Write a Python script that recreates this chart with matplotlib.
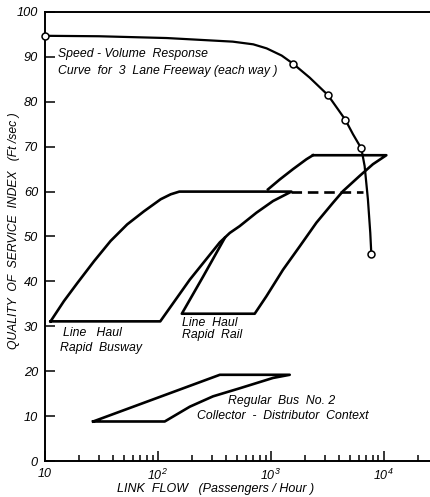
import numpy as np
import matplotlib
matplotlib.use('Agg')
from matplotlib import pyplot as plt
from matplotlib.ticker import FixedLocator, NullFormatter

plt.rcParams['font.family'] = ['Liberation Sans', 'DejaVu Sans']
plt.rcParams['font.style'] = 'italic'
plt.rcParams['mathtext.fontset'] = 'custom'
plt.rcParams['mathtext.rm'] = 'Liberation Sans:italic'
plt.rcParams['mathtext.it'] = 'Liberation Sans:italic'
plt.rcParams['mathtext.default'] = 'it'

# speed - volume response curve (freeway)
speed_flow = [10, 30, 120, 460, 700, 920, 1250, 1575, 2210, 3210, 3950, 4580, 5350, 6350, 6790, 7260, 7620, 7780]
speed_q = [94.7, 94.6, 94.2, 93.4, 92.8, 91.9, 90.3, 88.5, 85.4, 81.5, 78.3, 76.0, 72.8, 69.6, 65.7, 58.3, 50.8, 46.2]
speed_marks = [0, 7, 9, 11, 13, 17]

# line haul rapid busway outline
busway_flow = [11.2, 14.7, 19.3, 27.2, 38.1, 53.5, 75.2, 106, 130, 155,
               1524, 1048, 747, 530, 434, 354, 192, 105, 11.2]
busway_q = [31.1, 35.6, 39.6, 44.5, 49.0, 52.7, 55.6, 58.3, 59.4, 60.0,
            60.0, 57.9, 55.3, 52.3, 50.8, 48.7, 40.4, 31.1, 31.1]

# extension of busway top (dashed)
dash_flow = [1524, 6560]
dash_q = [60.0, 60.0]

# line haul rapid rail: lower part (left edge joins busway edge)
rail_low_flow = [392, 252, 163, 721, 916, 1285, 1806, 2543, 3557, 4365, 6138, 8040, 10570, 2366]
rail_low_q = [49.7, 41.1, 32.8, 32.8, 36.7, 42.6, 47.8, 53.1, 57.5, 60.1, 63.5, 66.1, 68.1, 68.1]
rail_up_flow = [2366, 2070, 1575, 1202, 946]
rail_up_q = [68.1, 67.2, 65.0, 62.7, 60.5]

# regular bus no. 2
bus_flow = [26.7, 354, 1473, 1048, 532, 308, 192, 115, 26.7]
bus_q = [8.8, 19.2, 19.2, 18.5, 16.2, 14.4, 12.1, 8.8, 8.8]

y_ticks = list(range(0, 101, 10))
x_major = [10, 100, 1000, 10000]
x_major_labels = ['10', '10$^2$', '10$^3$', '10$^4$']


def main():
    fig = plt.figure(figsize=(4.31, 4.97), dpi=100)
    ax = fig.add_axes([45 / 431, 1 - 461 / 497, 1 - 45 / 431, 449 / 497])
    ax.set_xscale('log')
    ax.set_xlim(10, 26300)
    ax.set_ylim(0, 100)

    lw = 1.9
    ax.plot(busway_flow, busway_q, color='black', lw=lw)
    ax.plot(dash_flow, dash_q, color='black', lw=lw, linestyle=(0, (4, 2.2)))
    ax.plot(rail_low_flow, rail_low_q, color='black', lw=lw)
    ax.plot(rail_up_flow, rail_up_q, color='black', lw=lw)
    ax.plot(bus_flow, bus_q, color='black', lw=lw)
    ax.plot(speed_flow, speed_q, color='black', lw=1.6, marker='o', markevery=speed_marks,
            markersize=5, markerfacecolor='white', markeredgecolor='black', markeredgewidth=1.1,
            clip_on=False, zorder=5)

    # axes look
    ax.spines['right'].set_visible(False)
    for side in ['left', 'bottom', 'top']:
        ax.spines[side].set_linewidth(1.4)

    ax.xaxis.set_major_locator(FixedLocator(x_major))
    ax.set_xticklabels(x_major_labels, fontsize=9)
    ax.xaxis.set_minor_locator(FixedLocator(
        [m * 10 ** d for d in range(1, 5) for m in range(2, 10)]))
    ax.xaxis.set_minor_formatter(NullFormatter())
    ax.tick_params(axis='x', which='major', direction='in', length=7, width=1.1, pad=5)
    ax.tick_params(axis='x', which='minor', direction='in', length=4, width=1.1)
    ax.tick_params(axis='x', top=False, which='both')

    ax.set_yticks(y_ticks)
    ax.set_yticklabels([str(v) for v in y_ticks], fontsize=9.2)
    ax.tick_params(axis='y', direction='in', length=7, width=1.1, pad=5, right=False)

    ax.set_xlabel('LINK  FLOW   (Passengers / Hour )', fontsize=9)
    ax.xaxis.set_label_coords(0.443, -0.049)
    ax.set_ylabel('QUALITY  OF  SERVICE  INDEX   (Ft /sec )', fontsize=8.7)
    ax.yaxis.set_label_coords(-0.066, 0.514)

    # annotations
    fs = 8.8
    ax.text(13.0, 90.6, 'Speed - Volume  Response', fontsize=fs, va='center')
    ax.text(13.0, 86.8, 'Curve  for  3  Lane Freeway (each way )', fontsize=fs, va='center')
    ax.text(14.4, 28.6, 'Line   Haul', fontsize=fs, va='center')
    ax.text(13.6, 25.2, 'Rapid  Busway', fontsize=fs, va='center')
    ax.text(163, 30.8, 'Line  Haul', fontsize=fs, va='center')
    ax.text(163, 28.1, 'Rapid  Rail', fontsize=fs, va='center')
    ax.text(417, 13.4, 'Regular  Bus  No. 2', fontsize=fs, va='center')
    ax.text(221, 10.0, 'Collector  -  Distributor  Context', fontsize=fs, va='center')

    fig.savefig('out.png', dpi=100)


if __name__ == '__main__':
    main()
